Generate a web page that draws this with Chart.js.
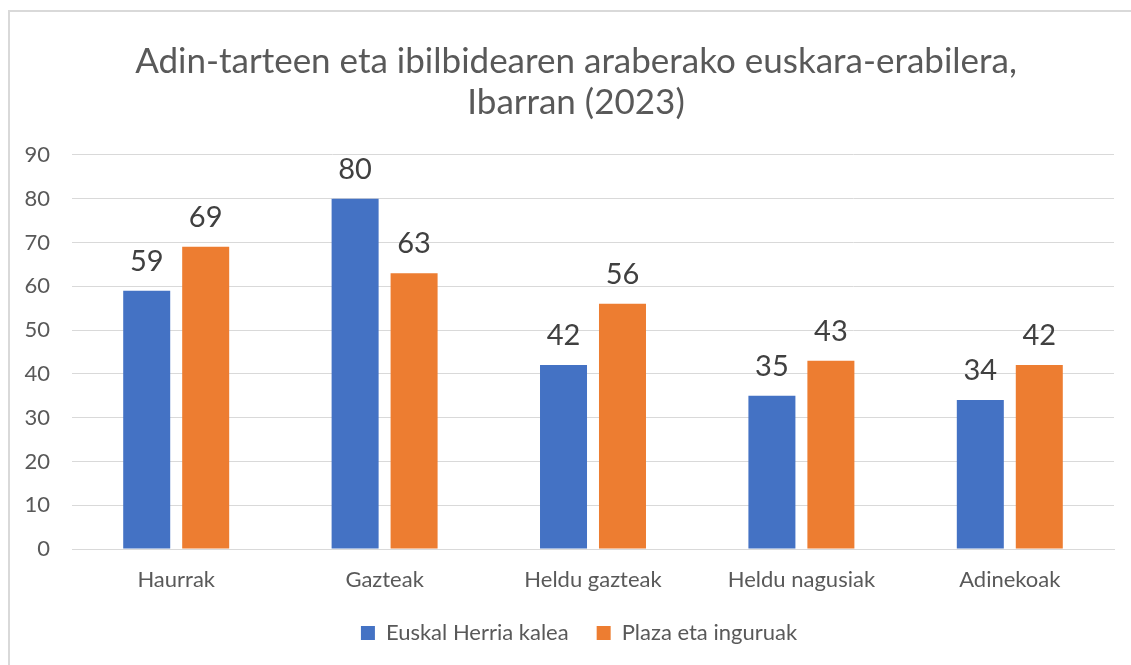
<!DOCTYPE html>
<html>
<head>
<meta charset="utf-8">
<script src="https://cdn.jsdelivr.net/npm/chart.js@4"></script>
<style>
  html, body { margin: 0; padding: 0; background: #fff; overflow: hidden; }
  #marko {
    position: absolute; left: 8px; top: 10px; width: 1200px; height: 700px;
    border: 2px solid #d9d9d9; box-sizing: border-box;
  }
  #kanpoa { position: absolute; left: 0; top: 0; width: 1131px; height: 665px; }
</style>
</head>
<body>
<div id="marko"></div>
<div id="kanpoa"><canvas id="grafikoa" width="1131" height="665"></canvas></div>
<script>
const kategoriak = ["Haurrak", "Gazteak", "Heldu gazteak", "Heldu nagusiak", "Adinekoak"];
const kaleaBalioak = [59, 80, 42, 35, 34];
const plazaBalioak = [69, 63, 56, 43, 42];
const yTickak = [0, 10, 20, 30, 40, 50, 60, 70, 80, 90];

const letra = "Lato, 'Open Sans', sans-serif";
const testuKolorea = "#595959";

// datu-etiketak barren gainean
const etiketaPlugina = {
  id: "etiketak",
  afterDatasetsDraw(chart) {
    const ctx = chart.ctx;
    ctx.save();
    ctx.font = "29px " + letra;
    ctx.fillStyle = "#404040";
    ctx.textAlign = "center";
    ctx.textBaseline = "alphabetic";
    chart.data.datasets.forEach((ds, i) => {
      chart.getDatasetMeta(i).data.forEach((bar, j) => {
        ctx.fillText(ds.data[j], bar.x, bar.y - 20);
      });
    });
    ctx.restore();
  },
};

// izenburua eta legenda apur bat eskuinera (Excel-eko koadroa bezala)
const lekualdatu = {
  id: "lekualdatu",
  afterLayout(chart) {
    if (chart.titleBlock) {
      chart.titleBlock.left += 8;
      chart.titleBlock.right += 8;
    }
    if (chart.legend) {
      chart.legend.left += 11;
      chart.legend.right += 11;
    }
  },
};

new Chart(document.getElementById("grafikoa"), {
  type: "bar",
  data: {
    labels: kategoriak,
    datasets: [
      {
        label: "Euskal Herria kalea",
        data: kaleaBalioak,
        backgroundColor: "#4472C4",
        categoryPercentage: 0.566,
        barPercentage: 0.797,
      },
      {
        label: "Plaza eta inguruak",
        data: plazaBalioak,
        backgroundColor: "#ED7D31",
        categoryPercentage: 0.566,
        barPercentage: 0.797,
      },
    ],
  },
  options: {
    responsive: false,
    animation: false,
    layout: { padding: { left: 22, right: 17, top: 41, bottom: 11 } },
    plugins: {
      title: {
        display: true,
        text: ["Adin-tarteen eta ibilbidearen araberako euskara-erabilera,", "Ibarran (2023)"],
        color: testuKolorea,
        font: { family: letra, size: 35, weight: "normal", lineHeight: 1.17 },
        padding: { top: 0, bottom: 32 },
      },
      legend: {
        position: "bottom",
        labels: {
          color: testuKolorea,
          font: { family: letra, size: 22 },
          boxWidth: 14,
          boxHeight: 14,
          padding: 28,
        },
      },
      tooltip: { enabled: false },
    },
    scales: {
      x: {
        afterFit: (scale) => {
          scale.height = 45;
        },
        grid: { display: false, drawTicks: false },
        border: { color: "#d9d9d9" },
        ticks: { color: testuKolorea, font: { family: letra, size: 22 }, padding: 18 },
      },
      y: {
        min: 0,
        max: 90,
        afterBuildTicks: (scale) => {
          scale.ticks = yTickak.map((v) => ({ value: v }));
        },
        afterFit: (scale) => {
          scale.width = 50;
        },
        grid: { color: "#d9d9d9", drawTicks: false },
        border: { display: false },
        ticks: { color: testuKolorea, font: { family: letra, size: 22 }, padding: 22 },
      },
    },
  },
  plugins: [etiketaPlugina, lekualdatu],
});
</script>
</body>
</html>
